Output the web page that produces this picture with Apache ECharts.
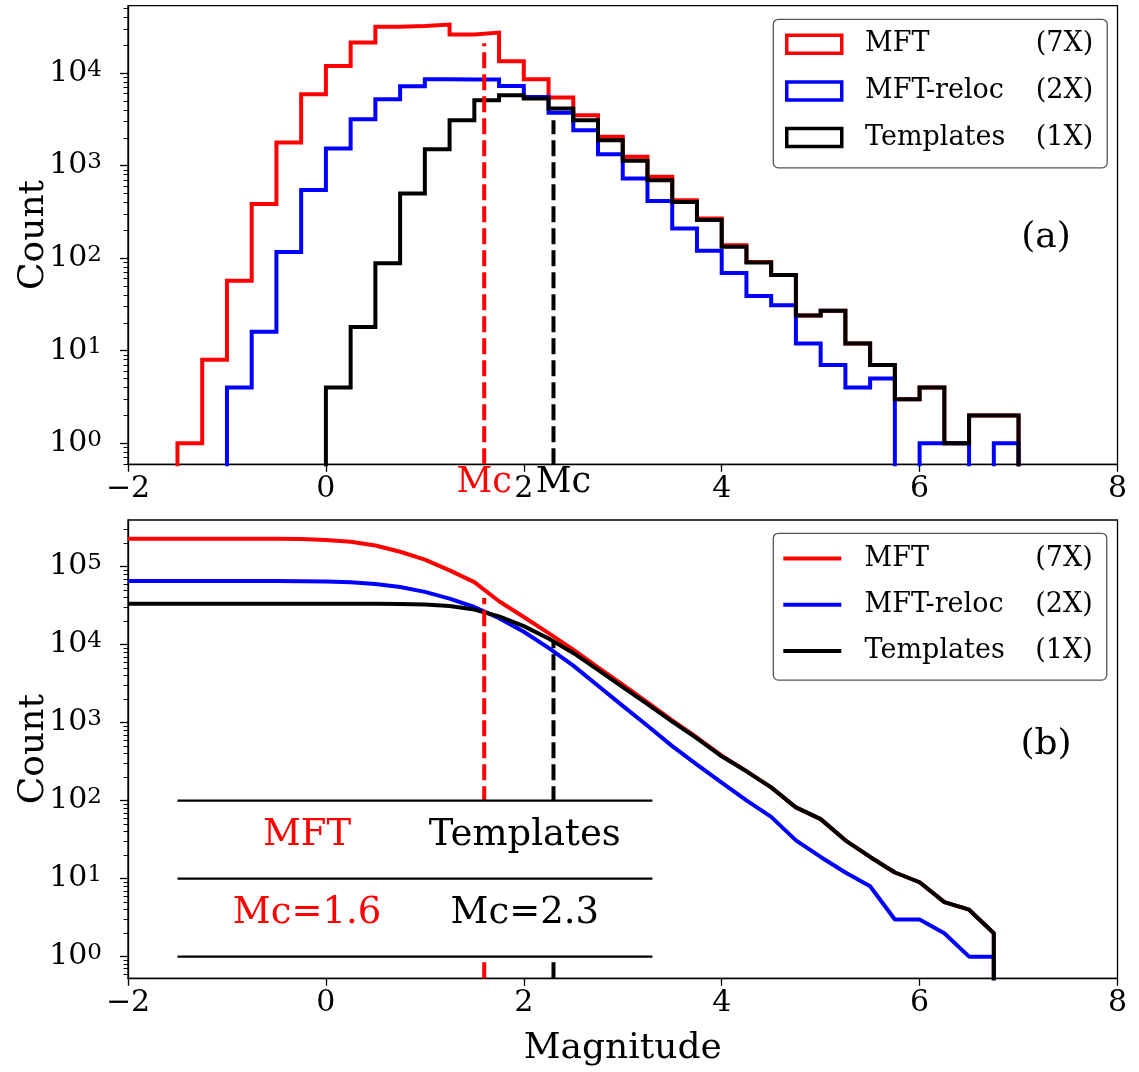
<!DOCTYPE html>
<html>
<head>
<meta charset="utf-8">
<script src="https://cdn.jsdelivr.net/npm/echarts@6/dist/echarts.min.js"></script>
<style>
html,body{margin:0;padding:0;background:#ffffff;}
#chart{width:1139px;height:1072px;}
</style>
</head>
<body>
<div id="chart"></div>
<script>
// ---------------- data ----------------
const seriesNames = ['MFT', 'MFT-reloc', 'Templates'];
const multipliers = ['(7X)', '(2X)', '(1X)'];

// magnitude bin edges (width 0.25)
const binEdges = [-2, -1.75, -1.5, -1.25, -1, -0.75, -0.5, -0.25, 0, 0.25, 0.5, 0.75,
  1, 1.25, 1.5, 1.75, 2, 2.25, 2.5, 2.75, 3, 3.25, 3.5, 3.75, 4, 4.25, 4.5, 4.75,
  5, 5.25, 5.5, 5.75, 6, 6.25, 6.5, 6.75, 7];

// counts per bin (36 bins)
const mftCounts = [0, 0, 1, 8, 57, 384, 1782, 5916, 11970, 21400,
  31700, 32300, 33500, 26100, 27400, 13400, 8590, 5450, 3510, 2047,
  1245, 757, 424, 269, 138, 91, 66, 24, 27, 12,
  7, 3, 4, 1, 2, 2];
const relocCounts = [0, 0, 0, 0, 4, 16, 117, 544, 1534, 3177,
  5224, 7220, 8600, 8530, 8530, 7270, 5530, 3720, 2418, 1331,
  728, 414, 210, 120, 69, 39, 31, 12, 7, 4,
  5, 0, 1, 1, 0, 1];
const templCounts = [0, 0, 0, 0, 0, 0, 0, 0, 4, 18,
  88, 501, 1507, 3100, 5100, 5770, 5320, 4150, 3100, 1885,
  1127, 697, 406, 258, 133, 90, 66, 24, 27, 12,
  7, 3, 4, 1, 2, 2];

// completeness magnitudes
const mcValues = [1.6, 2.3];
const mcLabelPos = [1.6, 2.4];
const mcVlineTopHist = [21000, 3100];
const mcVlineTopCum = [39700, 10900];

// axes
const xTicks = [-2, 0, 2, 4, 6, 8];
const histMajorTicks = [1, 10, 100, 1000, 10000];
const cumMajorTicks = [1, 10, 100, 1000, 10000, 100000];
const histYRange = [0.593, 53500];
const cumYRange = [0.528, 397000];

// inset table of panel (b)
const tableCells = [['MFT', 'Templates'], ['Mc=1.6', 'Mc=2.3']];
const tableRuleY = [100, 10, 1];

// ---------------- layout / style ----------------
const COLORS = ['#ff0000', '#0000ff', '#000000'];
const FONT = '"DejaVu Serif", "Liberation Serif", serif';
const FLOOR = 1e-3; // zero counts: drawn below the axis and clipped (log scale)
const tableRuleX = [-1.5, 3.3];
const tableCellX = [-0.19, 2.01];
const tableCellY = [35.5, 3.6];

function minorTicks(range) {
  const out = [];
  for (let k = -1; k <= 6; k++) {
    for (let m = 2; m <= 9; m++) {
      const v = m * Math.pow(10, k);
      if (v > range[0] && v < range[1]) out.push(v);
    }
  }
  return out;
}

function stepPoints(counts) {
  const pts = counts.map((c, i) => [binEdges[i], c > 0 ? c : FLOOR]);
  pts.push([binEdges[binEdges.length - 1], FLOOR]);
  return pts;
}

function cumulativePoints(counts) {
  const cum = new Array(counts.length);
  let run = 0;
  for (let i = counts.length - 1; i >= 0; i--) { run += counts[i]; cum[i] = run; }
  const pts = cum.map((c, i) => [binEdges[i], c > 0 ? c : FLOOR]);
  pts.push([binEdges[counts.length - 1], FLOOR]);
  return pts;
}

const allCounts = [mftCounts, relocCounts, templCounts];

const minus = v => String(v).replace('-', '\u2212');
const logLabel = v => '{m|10}{s|' + Math.round(Math.log10(v)) + '}';
const logRich = {
  m: { fontFamily: FONT, fontSize: 30, color: '#000' },
  s: { fontFamily: FONT, fontSize: 23, color: '#000', verticalAlign: 'top', lineHeight: 14 }
};

const gridTop = { left: 128, right: 21.5, top: 5.7, height: 458.6, show: true,
  borderColor: '#000', borderWidth: 1.3, outerBoundsMode: 'none', containLabel: false };
const gridBot = { left: 128, right: 21.5, top: 520, height: 458.3, show: true,
  borderColor: '#000', borderWidth: 1.3, outerBoundsMode: 'none', containLabel: false };

function xMain(gridIndex, withName) {
  const ax = {
    type: 'value', gridIndex: gridIndex, min: xTicks[0], max: xTicks[xTicks.length - 1], interval: 2,
    position: 'bottom',
    axisLine: { show: true, onZero: false, lineStyle: { color: '#000', width: 1.3 } },
    axisTick: { show: true, length: 7.5, lineStyle: { color: '#000', width: 1.3 } },
    axisLabel: { show: true, margin: 10, fontFamily: FONT, fontSize: 30, color: '#000', formatter: minus },
    splitLine: { show: false }
  };
  if (withName) {
    ax.name = 'Magnitude';
    ax.nameLocation = 'middle';
    ax.nameGap = 52;
    ax.nameMoveOverlap = false;
    ax.nameTextStyle = { fontFamily: FONT, fontSize: 36, color: '#000' };
  }
  return ax;
}

function yMajor(gridIndex, range, ticks) {
  return {
    type: 'log', logBase: 10, gridIndex: gridIndex, min: range[0], max: range[1], position: 'left',
    name: 'Count', nameLocation: 'middle', nameGap: 76, nameMoveOverlap: false,
    nameTextStyle: { fontFamily: FONT, fontSize: 36, color: '#000' },
    axisLine: { show: true, onZero: false, lineStyle: { color: '#000', width: 1.3 } },
    axisTick: { show: true, length: 8, customValues: ticks, lineStyle: { color: '#000', width: 1.3 } },
    axisLabel: { show: true, margin: 26, customValues: ticks, formatter: logLabel, rich: logRich },
    splitLine: { show: false },
    minorTick: { show: false }
  };
}

function yMinor(gridIndex, range) {
  return {
    type: 'log', logBase: 10, gridIndex: gridIndex, min: range[0], max: range[1], position: 'left',
    axisLine: { show: false, onZero: false },
    axisTick: { show: true, length: 4.5, customValues: minorTicks(range), lineStyle: { color: '#000', width: 1 } },
    axisLabel: { show: false },
    splitLine: { show: false }
  };
}

const series = [];
// panel (a): step histograms
allCounts.forEach((counts, i) => {
  series.push({
    name: seriesNames[i], type: 'line', xAxisIndex: 0, yAxisIndex: 0,
    data: stepPoints(counts), step: 'end', symbol: 'none', showSymbol: false,
    lineStyle: { color: COLORS[i], width: 4, join: 'miter' }, itemStyle: { color: COLORS[i] },
    clip: true, silent: true, animation: false, z: 3 + i
  });
});
// panel (a): Mc dashed lines
mcValues.forEach((mc, i) => {
  series.push({
    type: 'line', xAxisIndex: 0, yAxisIndex: 0,
    data: [[mc, histYRange[0]], [mc, mcVlineTopHist[i]]], symbol: 'none', showSymbol: false,
    lineStyle: { color: i === 0 ? COLORS[0] : COLORS[2], width: 4, type: [16, 6] },
    clip: true, silent: true, animation: false, z: 7
  });
});
// panel (b): cumulative curves
allCounts.forEach((counts, i) => {
  series.push({
    name: seriesNames[i], type: 'line', xAxisIndex: 2, yAxisIndex: 2,
    data: cumulativePoints(counts), symbol: 'none', showSymbol: false,
    lineStyle: { color: COLORS[i], width: 4 }, itemStyle: { color: COLORS[i] },
    clip: true, silent: true, animation: false, z: 3 + i
  });
});
// panel (b): Mc dashed lines
mcValues.forEach((mc, i) => {
  series.push({
    type: 'line', xAxisIndex: 2, yAxisIndex: 2,
    data: [[mc, cumYRange[0]], [mc, mcVlineTopCum[i]]], symbol: 'none', showSymbol: false,
    lineStyle: { color: i === 0 ? COLORS[0] : COLORS[2], width: 4, type: [16, 6] },
    clip: true, silent: true, animation: false, z: 7
  });
});
// panel (b): inset table background (opaque cells)
series.push({
  type: 'custom', xAxisIndex: 2, yAxisIndex: 2, silent: true, animation: false, z: 8,
  data: [[tableRuleX[0], tableRuleY[0], tableRuleX[1], tableRuleY[tableRuleY.length - 1]]],
  encode: { x: [0, 2], y: [1, 3] },
  renderItem: (params, api) => {
    const p1 = api.coord([api.value(0), api.value(1)]);
    const p2 = api.coord([api.value(2), api.value(3)]);
    return { type: 'rect', shape: { x: p1[0], y: p1[1], width: p2[0] - p1[0], height: p2[1] - p1[1] },
      style: { fill: '#ffffff' } };
  }
});
// panel (b): inset table rules
series.push({
  type: 'custom', xAxisIndex: 2, yAxisIndex: 2, silent: true, animation: false, z: 9,
  data: tableRuleY.map(y => [tableRuleX[0], y, tableRuleX[1]]),
  encode: { x: [0, 2], y: 1 },
  renderItem: (params, api) => {
    const p1 = api.coord([api.value(0), api.value(1)]);
    const p2 = api.coord([api.value(2), api.value(1)]);
    return { type: 'line', shape: { x1: p1[0], y1: p1[1], x2: p2[0], y2: p2[1] },
      style: { stroke: '#000', lineWidth: 2.2 } };
  }
});
// panel (b): inset table text
const tableTextData = [];
tableCells.forEach((row, r) => row.forEach((txt, c) => tableTextData.push([tableCellX[c], tableCellY[r], r, c])));
series.push({
  type: 'custom', xAxisIndex: 2, yAxisIndex: 2, silent: true, animation: false, z: 9,
  data: tableTextData,
  encode: { x: 0, y: 1 },
  renderItem: (params, api) => {
    const p = api.coord([api.value(0), api.value(1)]);
    const r = api.value(2), c = api.value(3);
    return { type: 'text', x: p[0], y: p[1],
      style: { text: tableCells[r][c], fill: c === 0 ? COLORS[0] : COLORS[2],
        font: '37px ' + FONT, align: 'center', verticalAlign: 'middle' } };
  }
});

const legendText = {
  color: '#000', fontFamily: FONT, fontSize: 27, lineHeight: 22,
  rich: {
    a: { fontFamily: FONT, fontSize: 27, color: '#000', lineHeight: 22, width: 170.7, padding: [0, 0, 0, 18.3] },
    b: { fontFamily: FONT, fontSize: 27, color: '#000', lineHeight: 22 }
  }
};
const legendFormatter = name => '{a|' + name + '}{b|' + multipliers[seriesNames.indexOf(name)] + '}';

const option = {
  backgroundColor: '#ffffff',
  animation: false,
  grid: [gridTop, gridBot],
  xAxis: [
    xMain(0, false),
    {
      type: 'value', gridIndex: 0, min: xTicks[0], max: xTicks[xTicks.length - 1], position: 'bottom',
      axisLine: { show: false, onZero: false }, axisTick: { show: false }, splitLine: { show: false },
      axisLabel: {
        show: true, margin: 1, customValues: mcLabelPos,
        formatter: v => (Math.abs(v - mcLabelPos[0]) < 1e-6 ? '{r|Mc}' : '{k|Mc}'),
        rich: {
          r: { fontFamily: FONT, fontSize: 35, color: COLORS[0] },
          k: { fontFamily: FONT, fontSize: 35, color: COLORS[2] }
        }
      }
    },
    xMain(1, true)
  ],
  yAxis: [
    yMajor(0, histYRange, histMajorTicks),
    yMinor(0, histYRange),
    yMajor(1, cumYRange, cumMajorTicks),
    yMinor(1, cumYRange)
  ],
  legend: [
    {
      orient: 'vertical', left: 773.3, top: 19.3, padding: [11.4, 14, 16.7, 11.7],
      itemGap: 19.7, itemWidth: 55, itemHeight: 18, selectedMode: false,
      backgroundColor: '#ffffff', borderColor: '#555555', borderWidth: 1.3, borderRadius: 5,
      data: seriesNames.map((n, i) => ({ name: n, icon: 'rect',
        itemStyle: { color: '#ffffff', borderColor: COLORS[i], borderWidth: 3.5 } })),
      formatter: legendFormatter, textStyle: legendText
    },
    {
      orient: 'vertical', left: 773.3, top: 533.3, padding: [11.7, 14, 15.7, 10],
      itemGap: 19.2, itemWidth: 58, itemHeight: 4, selectedMode: false,
      backgroundColor: '#ffffff', borderColor: '#555555', borderWidth: 1.3, borderRadius: 5,
      data: seriesNames.map((n, i) => ({ name: n, icon: 'rect',
        itemStyle: { color: COLORS[i], borderWidth: 0 } })),
      formatter: legendFormatter, textStyle: legendText
    }
  ],
  graphic: [
    { type: 'text', x: 1046, y: 238, silent: true,
      style: { text: '(a)', font: '36px ' + FONT, fill: '#000', align: 'center', verticalAlign: 'middle' } },
    { type: 'text', x: 1046, y: 745, silent: true,
      style: { text: '(b)', font: '36px ' + FONT, fill: '#000', align: 'center', verticalAlign: 'middle' } }
  ],
  series: series
};

const chart = echarts.init(document.getElementById('chart'), null, { renderer: 'canvas' });
chart.setOption(option);
</script>
</body>
</html>
